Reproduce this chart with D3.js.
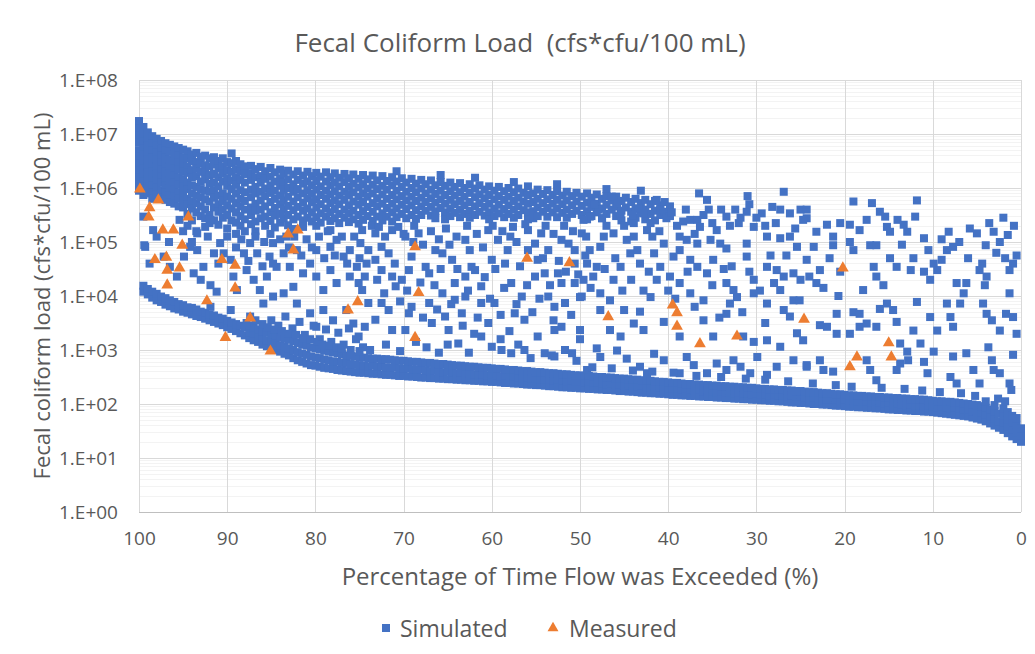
<!DOCTYPE html>
<html>
<head>
<meta charset="utf-8">
<script src="https://cdn.jsdelivr.net/npm/d3@7"></script>
<style>
  body { margin: 0; background: #fff; }
  text { font-family: "Open Sans", Lato, sans-serif; fill: #595959; }
</style>
</head>
<body>
<svg id="chart" width="1035" height="654"></svg>
<script>
// ---- text ----
const chartTitle = "Fecal Coliform Load  (cfs*cfu/100 mL)";
const xAxisTitle = "Percentage of Time Flow was Exceeded (%)";
const yAxisTitle = "Fecal coliform load (cfs*cfu/100 mL)";
const seriesNames = ["Simulated", "Measured"];

// ---- axes ----
const xTicks = [100, 90, 80, 70, 60, 50, 40, 30, 20, 10, 0];
const yTicks = [1, 1e1, 1e2, 1e3, 1e4, 1e5, 1e6, 1e7, 1e8];
const yTickLabels = ["1.E+00", "1.E+01", "1.E+02", "1.E+03", "1.E+04", "1.E+05", "1.E+06", "1.E+07", "1.E+08"];

// ---- Simulated loads (log10 of cfs*cfu/100 mL), rows: [percent exceeded, values...] ----
// dense low-flow band along the bottom of the cloud
const lowFlowBand = [
  [99.5,4.08,4.19],[99,4.03,4.13],[98.5,3.97,4.08],[98,3.92,4.04],[97.5,3.89,3.99],[97,3.84,3.96],
  [96.5,3.81,3.92],[96,3.77,3.89],[95.5,3.75,3.85],[95,3.71,3.83],[94.5,3.69,3.79],[94,3.66,3.78],
  [93.5,3.63,3.75],[93,3.61,3.71],[92.5,3.58,3.69],[92,3.55,3.66],[91.5,3.52,3.64],[91,3.49,3.6],
  [90.5,3.46,3.58],[90,3.42,3.54],[89.5,3.39,3.51],[89,3.35,3.48],[88.5,3.31,3.45],[88,3.27,3.42],
  [87.5,3.22,3.33,3.45],[87,3.18,3.3,3.41],[86.5,3.15,3.25,3.38],[86,3.1,3.23,3.34],[85.5,3.07,3.18,3.32],
  [85,3.03,3.16,3.29],[84.5,3.0,3.13,3.27],[84,2.97,3.09,3.24],[83.5,2.93,3.07,3.21],[83,2.9,3.03,3.19],
  [82.5,2.85,3.0,3.16],[82,2.81,2.96,3.13],[81.5,2.78,2.93,3.1],[81,2.75,2.91,3.08],[80.5,2.72,2.88,3.05],
  [80,2.71,2.86,3.03],[79.5,2.69,2.85,3.01],[79,2.67,2.82,2.99],[78.5,2.66,2.81,2.97],[78,2.65,2.79,2.96],
  [77.5,2.63,2.78,2.94],[77,2.62,2.76,2.92],[76.5,2.61,2.76,2.9],[76,2.6,2.74,2.89],[75.5,2.59,2.73,2.88],
  [75,2.58,2.72,2.86],[74.5,2.58,2.71,2.86],[74,2.57,2.7,2.85],[73.5,2.56,2.71,2.84],[73,2.56,2.69,2.84],
  [72.5,2.55,2.7,2.83],[72,2.54,2.68,2.83],[71.5,2.54,2.67,2.82],[71,2.53,2.68,2.81],[70.5,2.52,2.66,2.8],
  [70,2.52,2.65,2.8],[69.5,2.51,2.66,2.79],[69,2.51,2.64,2.78],[68.5,2.5,2.63,2.78],[68,2.49,2.64,2.77],
  [67.5,2.49,2.62,2.76],[67,2.48,2.61,2.76],[66.5,2.48,2.62,2.75],[66,2.47,2.6,2.74],[65.5,2.47,2.59,2.74],
  [65,2.46,2.6,2.73],[64.5,2.46,2.58,2.72],[64,2.45,2.57,2.71],[63.5,2.45,2.58,2.71],[63,2.44,2.56,2.7],
  [62.5,2.44,2.57,2.69],[62,2.43,2.55,2.69],[61.5,2.43,2.54,2.68],[61,2.42,2.55,2.67],[60.5,2.42,2.53,2.67],
  [60,2.41,2.54,2.66],[59.5,2.41,2.52,2.65],[59,2.4,2.51,2.65],[58.5,2.39,2.52,2.64],[58,2.39,2.5,2.63],
  [57.5,2.38,2.51,2.63],[57,2.38,2.49,2.62],[56.5,2.37,2.48,2.61],[56,2.36,2.49,2.61],[55.5,2.36,2.47,2.6],
  [55,2.35,2.48,2.59],[54.5,2.35,2.46,2.59],[54,2.34,2.45,2.58],[53.5,2.33,2.46,2.57],[53,2.33,2.44,2.57],
  [52.5,2.32,2.45,2.56],[52,2.31,2.43,2.55],[51.5,2.31,2.42,2.55],[51,2.3,2.43,2.54],[50.5,2.3,2.41,2.53],
  [50,2.29,2.42,2.53],[49.5,2.29,2.4,2.52],[49,2.28,2.41,2.52],[48.5,2.28,2.39,2.51],[48,2.27,2.4,2.5],
  [47.5,2.27,2.38,2.5],[47,2.26,2.37,2.49],[46.5,2.26,2.38,2.49],[46,2.25,2.36,2.48],[45.5,2.24,2.37,2.47],
  [45,2.24,2.35,2.47],[44.5,2.23,2.34,2.46],[44,2.23,2.35,2.45],[43.5,2.22,2.33,2.45],[43,2.21,2.34,2.44],
  [42.5,2.21,2.32,2.43],[42,2.2,2.31,2.43],[41.5,2.2,2.32,2.42],[41,2.19,2.3,2.41],[40.5,2.19,2.31,2.41],
  [40,2.18,2.29,2.4],[39.5,2.17,2.28,2.39],[39,2.17,2.29,2.39],[38.5,2.16,2.27,2.38],[38,2.16,2.28,2.37],
  [37.5,2.15,2.26,2.37],[37,2.15,2.25,2.36],[36.5,2.14,2.26,2.36],[36,2.14,2.24,2.35],[35.5,2.13,2.25,2.35],
  [35,2.13,2.23,2.34],[34.5,2.12,2.22,2.34],[34,2.12,2.23,2.33],[33.5,2.11,2.21,2.33],[33,2.11,2.22,2.32],
  [32.5,2.1,2.2,2.32],[32,2.1,2.21,2.31],[31.5,2.09,2.19,2.31],[31,2.09,2.2,2.3],[30.5,2.08,2.18,2.3],
  [30,2.08,2.19,2.29],[29.5,2.07,2.17,2.28],[29,2.07,2.18,2.28],[28.5,2.06,2.16,2.27],[28,2.06,2.17,2.27],
  [27.5,2.05,2.15,2.26],[27,2.05,2.16,2.26],[26.5,2.04,2.14,2.25],[26,2.03,2.15,2.25],[25.5,2.03,2.13,2.24],
  [25,2.02,2.14,2.24],[24.5,2.02,2.12,2.23],[24,2.01,2.11,2.22],[23.5,2.0,2.12,2.22],[23,2.0,2.1,2.21],
  [22.5,1.99,2.11,2.2],[22,1.99,2.09,2.2],[21.5,1.98,2.08,2.19],[21,1.97,2.09,2.18],[20.5,1.97,2.07,2.18],
  [20,1.96,2.08,2.17],[19.5,1.95,2.06,2.16],[19,1.95,2.07,2.16],[18.5,1.94,2.05,2.15],[18,1.94,2.04,2.15],
  [17.5,1.93,2.05,2.14],[17,1.93,2.03,2.14],[16.5,1.92,2.04,2.13],[16,1.92,2.02,2.13],[15.5,1.91,2.01,2.12],
  [15,1.9,2.02,2.12],[14.5,1.9,2.0,2.11],[14,1.89,2.01,2.11],[13.5,1.89,1.99,2.1],[13,1.88,1.98,2.1],
  [12.5,1.88,1.99,2.09],[12,1.87,1.97,2.09],[11.5,1.87,1.98,2.08],[11,1.86,1.96,2.08],[10.5,1.86,1.97,2.07],
  [10,1.85,1.95,2.06],[9.5,1.84,1.94,2.05],[9,1.83,1.95,2.05],[8.5,1.82,1.93,2.04],[8,1.81,1.92,2.04],
  [7.5,1.8,1.93,2.03],[7,1.79,1.91,2.02],[6.5,1.78,1.9,2.01],[6,1.77,1.89,2.0],[5.5,1.75,1.87,1.99],
  [5,1.73,1.86,1.98],[4.5,1.71,1.84,1.96],[4,1.68,1.8,1.93,2.05],[3.5,1.64,1.77,1.9],[3,1.6,1.73,1.87,1.98],
  [2.5,1.56,1.68,1.82],[2,1.52,1.65,1.78,1.92],[1.5,1.46,1.58,1.72,1.85],[1,1.4,1.52,1.65,1.78],
  [0.5,1.35,1.47,1.6,1.74],[0,1.3,1.42,1.55]
];

// dense high-load cloud along the top
const upperCloud = [
  [100,7.24,7.1,6.97,6.84,6.7,6.58,6.45,6.33,6.2,6.07,5.95],
  [99.5,7.13,7.0,6.87,6.74,6.62,6.5,6.37,6.25,6.12,5.99,5.87],
  [99,7.03,6.9,6.78,6.65,6.52,6.4,6.28,6.15,6.02,5.9],
  [98.5,6.96,6.82,6.7,6.57,6.44,6.3,6.18,6.05,5.92,5.8],
  [98,6.91,6.78,6.66,6.52,6.4,6.27,6.14,6.01,5.88],
  [97.5,6.87,6.74,6.6,6.47,6.35,6.22,6.1,5.96,5.82],
  [97,6.83,6.7,6.57,6.44,6.31,6.18,6.05,5.92,5.78],
  [96.5,6.8,6.67,6.53,6.4,6.27,6.14,6.0,5.87,5.74],
  [96,6.77,6.64,6.5,6.37,6.24,6.1,5.97,5.84,5.71],
  [95.5,6.74,6.6,6.47,6.34,6.2,6.06,5.92,5.8,5.66],
  [95,6.71,6.57,6.44,6.3,6.16,6.03,5.9,5.77,5.64],
  [94.5,6.68,6.55,6.4,6.28,6.1,5.98,5.8,5.7,5.52,5.3],
  [94,6.62,6.5,6.33,6.2,6.05,5.9,5.75,5.62,5.4],
  [93.5,6.65,6.48,6.36,6.22,6.02,5.86,5.72,5.55,5.2],
  [93,6.58,6.45,6.3,6.12,5.98,5.83,5.66,5.48],
  [92.5,6.6,6.42,6.29,6.16,5.95,5.79,5.6,5.44,5.28],
  [92,6.55,6.4,6.24,6.08,5.93,5.75,5.5,5.35],
  [91.5,6.57,6.44,6.26,6.1,5.96,5.82,5.64,5.4],
  [91,6.5,6.36,6.2,6.03,5.86,5.7,5.56,5.32],
  [90.5,6.55,6.4,6.27,6.12,5.9,5.76,5.6,5.45],
  [90,6.48,6.33,6.18,6.04,5.84,5.68,5.5,5.25],
  [89.5,6.64,6.46,6.3,6.14,5.98,5.8,5.62,5.4],
  [89,6.5,6.35,6.2,6.06,5.9,5.72,5.55,5.36,5.15],
  [88.5,6.44,6.3,6.15,5.96,5.8,5.66,5.48,5.3],
  [88,6.4,6.26,6.1,5.92,5.76,5.6,5.42,5.2],
  [87.3,6.41,6.27,6.15,5.97,5.83,5.64,5.5,5.33],
  [86.8,6.35,6.2,6.02,5.9,5.71,5.58,5.38,5.2],
  [86.2,6.39,6.22,6.1,5.93,5.77,5.6,5.44],
  [85.7,6.31,6.17,5.99,5.85,5.66,5.47,5.3],
  [85.1,6.37,6.21,6.05,5.91,5.74,5.55,5.39,5.15],
  [84.6,6.29,6.12,5.95,5.8,5.63,5.49,5.27],
  [84.0,6.34,6.18,6.04,5.86,5.7,5.52,5.36],
  [83.6,6.27,6.1,5.97,5.77,5.6,5.44],
  [83.1,6.32,6.16,6.0,5.84,5.67,5.5,5.31],
  [82.5,6.25,6.07,5.93,5.75,5.59,5.42,5.24],
  [82.0,6.31,6.15,5.98,5.83,5.65,5.47],
  [81.4,6.23,6.08,5.9,5.73,5.58,5.4,5.28],
  [80.9,6.3,6.12,5.96,5.81,5.62,5.45],
  [80.4,6.22,6.05,5.89,5.74,5.55,5.38],
  [79.9,6.28,6.13,5.97,5.79,5.64,5.46,5.3],
  [79.4,6.21,6.03,5.87,5.7,5.53,5.36],
  [78.8,6.29,6.12,5.95,5.8,5.62,5.47],
  [78.3,6.2,6.05,5.88,5.72,5.55,5.39,5.22],
  [77.8,6.27,6.1,5.94,5.77,5.61,5.44],
  [77.3,6.19,6.03,5.86,5.7,5.52,5.35],
  [76.7,6.26,6.11,5.93,5.78,5.6,5.45],
  [76.2,6.18,6.02,5.87,5.68,5.53,5.37],
  [75.7,6.25,6.08,5.92,5.75,5.58,5.42],
  [75.1,6.17,6.01,5.84,5.69,5.5,5.34],
  [74.6,6.24,6.07,5.9,5.74,5.57,5.41],
  [74.1,6.16,5.99,5.84,5.65,5.48],
  [73.5,6.23,6.06,5.9,5.72,5.56,5.39],
  [73.0,6.14,5.98,5.81,5.66,5.47],
  [72.4,6.22,6.04,5.88,5.71,5.53,5.4],
  [71.9,6.13,5.97,5.8,5.63,5.47],
  [71.3,6.2,6.05,5.87,5.71,5.55,5.38],
  [70.8,6.31,6.12,5.95,5.79,5.62,5.46],
  [70.2,6.18,6.02,5.85,5.69,5.52],
  [69.7,6.1,5.93,5.77,5.61,5.44],
  [69.1,6.17,6.0,5.84,5.68,5.5],
  [68.6,6.08,5.92,5.76,5.59,5.43],
  [68.0,6.15,5.99,5.82,5.66,5.5],
  [67.5,6.07,5.9,5.74,5.58],
  [66.9,6.14,5.97,5.81,5.65,5.49],
  [66.4,6.05,5.89,5.73,5.57,5.44],
  [65.8,6.24,6.11,5.95,5.79,5.63],
  [65.3,6.04,5.87,5.71,5.55,5.42],
  [64.7,6.1,5.94,5.78,5.62,5.48],
  [64.2,6.02,5.86,5.7,5.54],
  [63.6,6.09,5.92,5.76,5.6,5.46],
  [63.1,6.0,5.84,5.68,5.52],
  [62.5,6.07,5.91,5.74,5.58,5.45],
  [61.9,6.19,5.99,5.83,5.66,5.5],
  [61.4,6.05,5.88,5.72,5.56],
  [60.8,5.97,5.81,5.65,5.49],
  [60.3,6.03,5.87,5.71,5.55,5.42],
  [59.7,5.95,5.79,5.62,5.48],
  [59.2,6.02,5.85,5.69,5.53],
  [58.6,5.94,5.78,5.61,5.46],
  [58.1,6.0,5.84,5.68,5.52],
  [57.5,6.11,5.92,5.76,5.6,5.45],
  [57.0,5.99,5.82,5.66,5.5],
  [56.4,5.91,5.75,5.59],
  [55.9,6.03,5.87,5.71,5.55,5.42],
  [55.3,5.9,5.74,5.57,5.44],
  [54.8,5.97,5.8,5.64,5.48],
  [54.2,5.89,5.72,5.56],
  [53.7,5.96,5.79,5.63,5.47],
  [53.1,5.87,5.71,5.55],
  [52.6,6.07,5.94,5.78,5.62,5.46],
  [52.0,5.86,5.7,5.54],
  [51.5,5.93,5.77,5.6,5.45],
  [50.9,5.85,5.68,5.52],
  [50.4,5.91,5.75,5.58],
  [49.8,5.84,5.67,5.5],
  [49.2,5.9,5.73,5.57,5.42],
  [48.7,5.82,5.65,5.48],
  [48.1,5.88,5.71,5.55],
  [47.5,5.8,5.62,5.44],
  [47.0,5.98,5.85,5.69,5.52],
  [46.4,5.77,5.6],
  [45.9,5.84,5.66,5.48],
  [45.3,5.76,5.58,5.4],
  [44.8,5.82,5.64],
  [44.2,5.74,5.56,5.38],
  [43.7,5.8,5.62,5.45],
  [43.1,5.95,5.72,5.54],
  [42.6,5.78,5.6,5.42],
  [42.0,5.7,5.52],
  [41.5,5.76,5.58,5.4],
  [40.9,5.68,5.5],
  [40.4,5.74,5.56],
  [39.8,5.66,5.48]
];

// scattered days between the two dense regions: [percent exceeded, log10 load]
const scatteredDays = [
  [99.5,5.47],[98.4,5.22],[99.3,4.91],[99.4,4.94],[98.0,5.1],[96.6,5.0],[95.0,5.2],[95.4,5.41],[94.2,4.91],
  [94.9,4.73],[93.4,4.85],[93.4,5.16],[91.9,5.41],[91.5,4.79],[90.8,4.98],[90.4,4.79],[89.6,4.67],[88.1,4.79],
  [87.4,4.98],[86.6,4.79],[92.7,4.54],[93.8,4.42],[93.0,4.3],[91.9,4.2],[91.2,4.08],[89.3,4.36],[88.9,4.11],
  [87.8,4.48],[87.0,4.3],[86.3,4.11],[85.5,4.36],[84.4,4.54],[85.2,4.73],[83.6,4.79],[82.9,4.54],[85.9,3.86],
  [84.8,3.99],[83.6,4.05],[82.5,4.17],[82.1,3.86],[81.4,4.42],[80.6,4.6],[79.9,4.36],[79.1,4.11],[78.3,4.48],
  [77.6,4.24],[76.8,4.73],[76.1,4.36],[75.3,4.54],[80.6,3.68],[79.1,3.74],[78.0,3.55],[76.5,3.74],[75.7,3.49],
  [79.9,3.43],[87.4,3.62],[89.6,3.74],[91.9,3.8],[97.2,4.73],[96.5,4.54],[98.8,4.6],[95.7,4.36],[84.8,4.98],
  [83.3,5.1],[82.1,4.85],[79.9,4.85],[78.3,4.91],[77.6,5.04],[76.1,4.85],[74.9,4.98],
  [85.0,3.55],[84.2,3.45],[83.4,3.62],[82.6,3.4],[81.8,3.52],[81.2,3.28],[80.2,3.45],[79.5,3.2],[78.8,3.38],
  [78.2,3.15],[77.4,3.32],[76.8,3.1],[76.2,3.4],[75.4,3.2],[74.6,3.05],
  [87.8,3.5],[86.8,3.55],[86.0,3.48],[85.4,3.42],[84.6,3.38],[83.8,3.35],[83.0,3.3],[82.2,3.28],[81.4,3.22],
  [80.6,3.2],[79.8,3.15],[79.2,3.1],[78.4,3.08],[77.6,3.05],[77.0,3.02],[76.0,3.0],[75.0,2.98],
  [94.0,5.0],[92.2,5.1],[91.0,4.6],[90.0,5.1],[89.0,4.9],[88.4,5.05],[87.6,4.65],[86.8,5.1],[86.0,4.55],
  [85.8,5.0],[84.8,4.6],[84.0,5.05],[83.0,4.9],[82.4,5.1],[81.6,4.75],[81.0,5.05],[80.4,4.9],[79.6,5.1],
  [79.0,4.7],[78.6,5.2],[77.8,4.75],[77.0,5.1],[76.4,4.6],[75.6,5.1],[75.0,4.7],
  [74.7,5.22],[74.0,4.85],[74.4,4.36],[75.1,4.24],[73.2,5.16],[72.1,5.1],[71.3,5.22],[70.6,5.28],[72.5,4.91],
  [71.7,4.79],[73.2,4.67],[72.5,4.48],[71.3,4.36],[70.9,4.18],[74.7,4.11],[74.0,3.87],[72.5,3.87],[71.7,3.74],
  [73.2,3.56],[74.4,3.43],[71.3,3.37],[69.8,3.37],[75.1,3.25],[69.8,5.1],[68.3,5.16],[69.1,4.73],[69.4,4.48],
  [70.2,4.3],[67.5,4.54],[67.1,4.42],[69.1,3.8],[69.4,3.68],[67.1,3.87],[66.8,3.5],[65.6,4.05],[66.4,4.85],
  [65.6,4.79],[64.5,4.67],[63.0,5.04],[64.2,4.24],[63.0,4.36],[62.3,4.54],[61.9,4.48],[64.2,3.93],[63.0,3.99],
  [65.3,3.62],[64.9,3.37],[63.4,3.68],[63.8,3.12],[61.2,4.18],[61.2,3.87],[59.7,3.87],[60.4,3.5],[61.2,3.25],
  [60.0,3.06],[58.9,3.0],[57.8,2.94],[56.3,3.0],[60.0,4.67],[59.3,5.04],[60.4,5.22],[58.2,4.85],[58.5,4.6],
  [57.8,4.24],[56.6,3.99],[57.4,3.68],[56.3,3.56],[55.9,4.85],[55.1,4.97],[55.9,5.22],[54.4,5.16],[53.6,4.85],
  [54.8,4.67],[55.1,4.36],[54.0,4.42],[53.6,3.99],[52.9,3.8],[52.1,3.43],[52.9,3.37],[54.8,3.25],[54.0,2.94],
  [52.9,2.88],[51.7,3.0],[50.9,2.94],[52.1,5.04],[51.3,4.97],[50.6,4.85],[52.5,4.42],[52.1,4.24],[50.6,4.24],
  [49.8,3.99],[51.7,3.87],[50.6,4.6],[49.8,5.16],
  [73.8,3.0],[72.0,3.1],[70.4,2.98],[68.6,3.15],[67.4,3.05],[66.0,2.95],[65.0,3.1],[62.6,2.95],[62.0,3.3],
  [59.0,3.2],[58.0,3.35],[57.0,3.1],[55.6,2.85],[53.2,2.9],[50.4,2.8],
  [73.6,5.3],[72.8,5.28],[70.0,5.15],[68.8,5.3],[67.8,4.95],[66.9,5.2],[66.0,5.05],[65.2,5.25],[64.0,5.1],
  [62.8,5.3],[61.7,5.15],[61.0,4.9],[59.9,5.3],[58.8,5.2],[57.6,5.28],[57.2,5.0],[56.2,5.33],[53.9,5.3],
  [53.0,5.15],[51.8,5.3],[50.8,5.2],
  [74.2,4.6],[73.0,4.3],[72.2,4.05],[71.0,4.6],[70.4,3.9],[69.6,4.1],[68.9,5.0],[68.1,4.25],[67.8,3.6],
  [66.5,4.2],[66.2,3.75],[65.8,4.5],[64.8,4.95],[64.6,3.85],[63.9,4.5],[63.3,3.45],[62.7,4.1],[62.5,4.85],
  [61.6,3.6],[60.8,4.35],[60.2,3.95],[59.6,4.5],[59.0,3.65],[58.6,4.15],[57.9,5.1],[57.2,3.85],[56.8,4.55],
  [56.0,4.2],[55.4,3.7],[54.6,3.95],[54.2,4.7],[53.4,4.2],[53.0,3.55],[52.4,4.65],[51.6,4.45],[51.0,3.65],
  [50.2,4.4],[50.0,3.2],[49.4,4.75],[48.8,4.15],[47.2,4.5],[46.0,4.7],[45.2,4.1],[44.2,4.3],[42.8,4.1],
  [42.2,4.45],[40.0,4.1],[39.2,3.95],[37.8,4.45],[37.0,3.8],[35.0,4.2],[34.2,3.6],[32.8,4.55],[31.6,3.7],
  [30.8,4.45],[29.6,4.1],[29.0,3.5],[28.4,4.75],[26.6,4.75],[25.0,4.3],
  [46.4,5.84],[45.8,5.72],[45.4,5.53],[47.9,5.6],[47.5,5.44],[48.9,5.47],[49.6,5.41],[43.4,5.62],[42.8,5.53],
  [41.3,5.78],[40.9,5.6],[40.2,5.44],[43.9,5.35],[42.0,5.35],[42.4,5.22],[38.3,5.38],[37.5,5.41],[36.7,5.41],
  [35.6,5.78],[35.4,5.6],[36.4,5.28],[34.5,5.22],[33.4,5.47],[32.4,5.6],[31.1,5.56],[29.4,5.53],[26.9,5.93],
  [27.3,5.6],[26.2,5.53],[25.0,5.6],[24.3,5.44],[32.0,5.35],[30.3,5.28],[28.8,5.1],[27.3,5.07],[26.2,5.1],
  [25.4,4.91],[34.1,4.97],[33.4,4.88],[31.1,4.97],[38.7,5.1],[37.9,5.04],[36.7,4.97],[35.2,5.04],[40.5,4.97],
  [41.8,5.1],[43.9,5.1],[44.7,5.04],[46.2,5.16],[47.3,5.1],[49.3,5.1],[48.9,4.85],[47.7,4.91],[44.3,4.79],
  [43.5,4.85],[41.6,4.79],[39.4,4.73],[38.7,4.85],[37.5,4.67],[36.7,4.54],[34.9,4.67],[33.7,4.5],[31.1,4.73],
  [28.8,4.54],[27.7,4.48],[26.9,4.36],[25.8,4.42],[24.3,4.67],[48.1,4.54],[49.2,4.6],[45.4,4.54],[43.2,4.6],
  [40.9,4.54],[49.6,4.3],[48.5,4.36],[46.2,4.3],[41.3,4.3],[39.8,4.36],[38.7,4.24],[35.6,4.42],[33.4,4.24],
  [32.6,4.11],[30.3,4.3],[28.0,4.24],[27.3,4.11],[25.8,3.92],[50.0,3.98],[47.7,4.05],[46.6,3.92],[42.0,3.98],
  [37.5,4.05],[36.0,3.92],[33.0,3.86],[32.2,3.98],[30.3,4.05],[28.8,3.86],[47.7,3.74],[45.0,3.74],[43.2,3.71],
  [40.5,3.52],[36.0,3.55],[33.4,3.67],[26.9,3.74],[26.2,3.62],[50.0,3.37],[46.6,3.37],[45.4,3.25],[43.9,3.49],
  [42.8,3.37],[38.7,3.25],[34.9,3.25],[31.5,3.25],[30.3,3.15],[28.8,3.18],[27.3,3.06],[25.4,3.31],[48.1,3.03],
  [47.7,2.87],[45.8,2.99],[44.7,2.84],[41.6,2.93],[40.5,2.81],[37.9,2.87],[37.1,2.72],[34.5,2.75],[32.6,2.81],
  [31.8,2.69],[29.9,2.87],[27.7,2.69],[25.8,2.81],[24.3,2.69],[49.2,2.63],[43.2,2.69],[42.4,2.57],[38.7,2.57],
  [35.6,2.57],[33.4,2.63],[30.7,2.57],[28.8,2.54],
  [48.4,5.7],[47.0,5.3],[45.0,5.3],[44.0,5.5],[41.0,5.2],[39.6,5.55],[39.0,5.3],[38.0,5.6],[37.0,5.15],
  [36.0,5.5],[35.0,5.35],[34.0,5.6],[33.0,5.3],[31.8,5.45],[30.8,5.7],[30.0,5.45],[29.0,5.3],[28.2,5.65],
  [27.8,5.35],[25.6,5.25],[36.5,5.9],[31.0,5.85],
  [48.6,2.68],[46.4,2.66],[44.0,2.62],[41.8,2.6],[39.4,2.58],[36.8,2.52],[34.0,2.5],[31.2,2.47],[29.0,2.45],
  [26.4,2.42],[23.6,2.38],[21.0,2.35],[19.2,2.32],[15.8,2.3],[13.2,2.28],[11.2,2.25],[9.2,2.22],[6.8,2.2],
  [5.2,2.15],[2.6,2.1],[1.8,2.05],
  [19.0,5.75],[16.9,5.72],[16.0,5.56],[15.4,5.47],[11.8,5.77],[12.0,5.47],[17.5,5.41],[14.0,5.41],[13.3,5.32],
  [12.9,5.19],[11.0,5.07],[15.2,5.28],[14.85,5.19],[18.3,5.22],[19.4,5.32],[20.5,5.35],[22.0,5.32],[23.2,5.19],
  [24.3,5.6],[24.7,5.41],[21.3,5.1],[19.4,5.0],[19.0,4.85],[17.1,4.94],[16.4,4.94],[23.5,4.91],[21.3,4.94],
  [8.2,5.19],[5.8,5.25],[5.0,5.16],[3.1,5.19],[1.5,5.13],[4.0,4.94],[2.4,5.0],[0.5,4.75],[0.9,4.6],[1.3,4.48],
  [7.7,4.91],[8.4,4.85],[9.0,4.67],[9.9,4.6],[9.5,4.48],[10.3,4.3],[14.85,4.7],[14.1,4.54],[12.5,4.48],
  [11.0,4.45],[16.7,4.54],[16.4,4.36],[15.6,4.2],[17.9,4.11],[20.5,4.45],[21.7,4.7],[22.8,4.48],[24.0,4.36],
  [23.2,4.24],[22.4,4.15],[25.1,3.92],[20.7,4.0],[19.0,3.7],[18.3,3.67],[16.0,3.76],[15.2,3.86],[14.5,3.74],
  [14.1,3.52],[11.8,3.89],[10.3,3.61],[8.4,3.86],[8.0,3.61],[7.7,3.43],[6.9,3.86],[7.3,4.24],[6.2,4.24],
  [6.5,4.05],[4.7,4.48],[3.9,4.36],[4.1,4.2],[4.3,3.86],[3.9,3.67],[3.3,3.55],[2.4,3.36],[1.7,3.67],[1.3,4.05],
  [0.9,3.61],[0.5,3.3],[0.9,2.91],[3.7,3.05],[3.3,2.81],[3.1,2.63],[2.4,2.57],[1.3,2.38],[1.1,2.26],[4.7,2.38],
  [5.4,2.63],[6.2,2.94],[7.7,2.88],[8.0,2.5],[7.3,2.38],[9.9,2.97],[11.0,2.78],[10.6,2.57],[12.9,2.97],
  [13.7,3.12],[13.7,2.75],[14.1,2.63],[12.8,2.81],[12.2,3.36],[11.4,3.12],[9.5,3.36],[17.5,2.81],[17.1,2.63],
  [16.4,2.44],[21.3,2.6],[22.4,2.63],[24.3,2.72],[22.8,2.81],[19.4,3.3],[18.3,3.43],[17.5,3.49],[16.4,3.43],
  [22.0,3.43],[22.8,3.46],[20.9,3.3],[24.7,3.18],[20.9,3.67],
  [3.6,5.35],[2.0,5.45],[0.8,5.3],[2.8,4.8],[1.8,4.7],[4.4,4.6],[7.0,5.0],[6.0,4.7],[9.0,5.05],[10.5,4.85],
  [13.5,4.95],[12.2,4.7]
];

// ---- Measured loads: [percent exceeded, load] ----
const measured = [
  [99.9,9.5e5],[97.8,6.0e5],[98.8,4.3e5],[98.9,2.9e5],[94.4,2.9e5],[97.3,1.66e5],[96.1,1.66e5],
  [95.1,8.7e4],[98.2,4.7e4],[96.9,5.2e4],[96.8,3.0e4],[95.4,3.3e4],[96.8,1.6e4],[92.3,8.1e3],
  [90.6,4.7e4],[89.1,3.7e4],[89.1,1.4e4],[87.4,3.9e3],[90.2,1.7e3],[85.1,9.5e2],[83.1,1.4e5],
  [82.0,1.66e5],[82.5,7.1e4],[76.3,5.5e3],[75.2,7.8e3],[68.7,8.1e4],[68.3,1.15e4],[68.7,1.7e3],
  [56.0,5.0e4],[51.2,4.1e4],[46.8,4.1e3],[39.5,6.8e3],[39.0,4.9e3],[39.0,2.75e3],[36.4,1.3e3],
  [32.2,1.8e3],[24.6,3.7e3],[20.2,3.3e4],[18.6,7.4e2],[19.4,4.9e2],[15.0,1.35e3],[14.7,7.4e2]
];

// ---- chart ----
const W = 1035, H = 654;
const plot = { left: 139, right: 1021, top: 80, bottom: 512 };
const blue = "#4472C4", orange = "#ED7D31";

const svg = d3.select("#chart");
svg.append("rect").attr("width", W).attr("height", H).attr("fill", "#fff");

const x = d3.scaleLinear().domain([100, 0]).range([plot.left, plot.right]);
const y = d3.scaleLog().domain([1, 1e8]).range([plot.bottom, plot.top]);

// minor gridlines (2..9 within each decade)
const minorVals = [];
for (let e = 0; e < 8; e++) for (let m = 2; m <= 9; m++) minorVals.push(m * Math.pow(10, e));
const grid = svg.append("g");
grid.selectAll("line.minor").data(minorVals).join("line")
  .attr("x1", plot.left).attr("x2", plot.right)
  .attr("y1", d => Math.round(y(d)) + 0.5).attr("y2", d => Math.round(y(d)) + 0.5)
  .attr("stroke", "#f3f3f3").attr("stroke-width", 1);
grid.selectAll("line.hmajor").data(yTicks.slice(1)).join("line")
  .attr("x1", plot.left).attr("x2", plot.right)
  .attr("y1", d => Math.round(y(d)) + 0.5).attr("y2", d => Math.round(y(d)) + 0.5)
  .attr("stroke", "#d9d9d9").attr("stroke-width", 1);
grid.selectAll("line.v").data(xTicks).join("line")
  .attr("x1", d => Math.round(x(d)) + 0.5).attr("x2", d => Math.round(x(d)) + 0.5)
  .attr("y1", plot.top).attr("y2", plot.bottom)
  .attr("stroke", "#d9d9d9").attr("stroke-width", 1);

// axes
const xAxis = svg.append("g").attr("transform", `translate(0,${plot.bottom})`)
  .call(d3.axisBottom(x).tickValues(xTicks).tickSize(0).tickPadding(20).tickFormat(d3.format("d")));
xAxis.select(".domain").attr("stroke", "#bfbfbf").attr("d", `M${plot.left},0.5H${plot.right}`);
xAxis.selectAll("text").style("font-size", "19px").attr("fill", "#595959");

const yAxis = svg.append("g").attr("transform", `translate(${plot.left},0)`)
  .call(d3.axisLeft(y).tickValues(yTicks).tickSize(0).tickPadding(21)
    .tickFormat((d, i) => yTickLabels[i]));
yAxis.select(".domain").remove();
yAxis.selectAll("text").style("font-size", "19px").attr("fill", "#595959");

// simulated points
const simPoints = [];
[...lowFlowBand, ...upperCloud].forEach(([p, ...vals]) =>
  vals.forEach(v => simPoints.push([p, Math.pow(10, v)])));
scatteredDays.forEach(([p, v]) => simPoints.push([p, Math.pow(10, v)]));

const sq = 8;
svg.append("g").selectAll("rect").data(simPoints).join("rect")
  .attr("x", d => x(d[0]) - sq / 2).attr("y", d => y(d[1]) - sq / 2)
  .attr("width", sq).attr("height", sq).attr("fill", blue);

// measured points
const tri = d3.symbol().type(d3.symbolTriangle).size(60);
svg.append("g").selectAll("path").data(measured).join("path")
  .attr("transform", d => `translate(${x(d[0])},${y(d[1])})`)
  .attr("d", tri).attr("fill", orange);

// titles
svg.append("text").attr("x", 520).attr("y", 52).attr("text-anchor", "middle")
  .style("font-size", "26px").style("white-space", "pre").text(chartTitle);
svg.append("text").attr("x", (plot.left + plot.right) / 2).attr("y", 585).attr("text-anchor", "middle")
  .style("font-size", "24px").text(xAxisTitle);
svg.append("text").attr("transform", `translate(50,${(plot.top + plot.bottom) / 2}) rotate(-90)`)
  .attr("text-anchor", "middle").style("font-size", "22px").text(yAxisTitle);

// legend
const legend = svg.append("g");
legend.append("rect").attr("x", 382).attr("y", 624).attr("width", 8).attr("height", 8).attr("fill", blue);
legend.append("text").attr("x", 400).attr("y", 637).style("font-size", "23px").text(seriesNames[0]);
legend.append("path").attr("transform", "translate(553,628)")
  .attr("d", d3.symbol().type(d3.symbolTriangle).size(52)).attr("fill", orange);
legend.append("text").attr("x", 569).attr("y", 637).style("font-size", "23px").text(seriesNames[1]);
</script>
</body>
</html>
